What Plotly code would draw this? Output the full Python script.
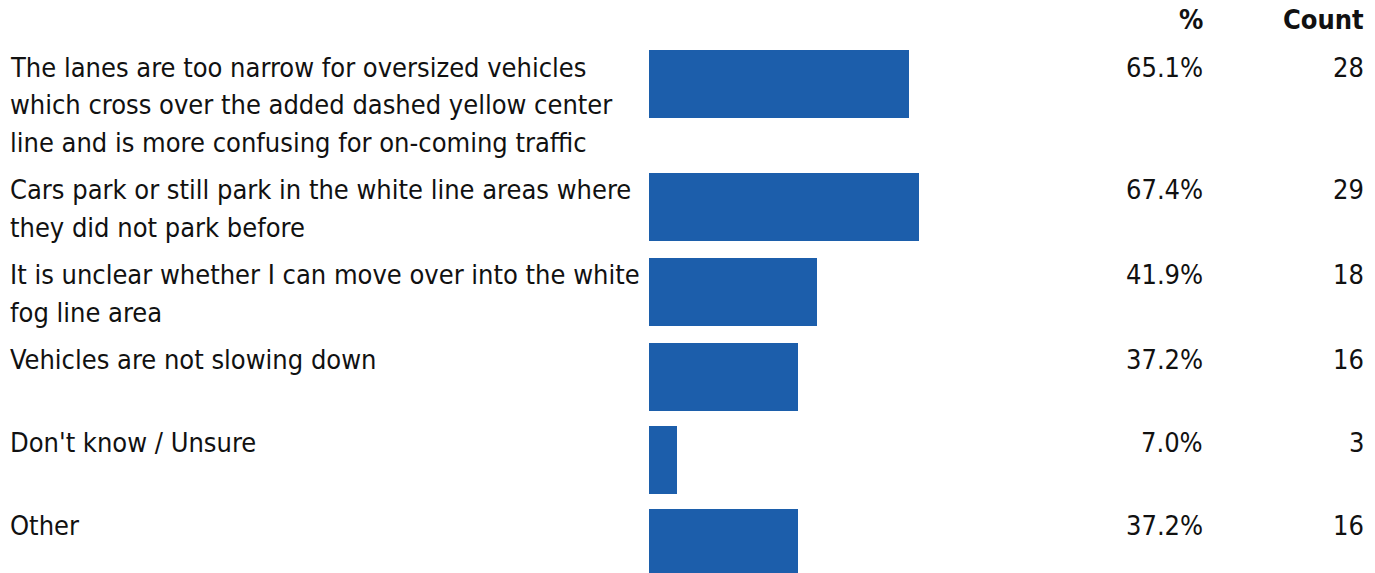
import plotly.graph_objects as go

labels = [
    "The lanes are too narrow for oversized vehicles<br>which cross over the added dashed yellow center<br>line and is more confusing for on-coming traffic",
    "Cars park or still park in the white line areas where<br>they did not park before",
    "It is unclear whether I can move over into the white<br>fog line area",
    "Vehicles are not slowing down",
    "Don't know / Unsure",
    "Other",
]
percents = [65.1, 67.4, 41.9, 37.2, 7.0, 37.2]
counts = [28, 29, 18, 16, 3, 16]
headers = ["%", "Count"]

W, H = 1375, 573
LINE = 37.5      # spacing between wrapped label lines (px)
BAR_H = 68
FONT = "DejaVu Sans Condensed, Liberation Sans Narrow, sans-serif"
TEXT = "#111111"
BAR = "#1c5eab"

# row layout: taller rows for labels wrapping on more lines
tops = []
pos = 50
for lab in labels:
    tops.append(pos)
    n = lab.count("<br>") + 1
    pos += max(n * LINE + 10, 83)
centers = [t + BAR_H / 2 for t in tops]

fig = go.Figure()
fig.add_trace(go.Bar(
    x=percents,
    y=centers,
    orientation="h",
    width=BAR_H,
    marker_color=BAR,
    marker_line_width=0,
    hoverinfo="skip",
))

font = dict(size=27, color=TEXT, family=FONT)
annotations = []
for i, lab in enumerate(labels):
    for j, line in enumerate(lab.split("<br>")):
        annotations.append(dict(
            text=line, xref="paper", x=8 / W, xanchor="left",
            yref="y", y=tops[i] + 17 + j * LINE, yanchor="middle",
            showarrow=False, font=font,
        ))
    annotations.append(dict(
        text=f"{percents[i]:.1f}%", xref="paper", x=1205 / W, xanchor="right",
        yref="y", y=tops[i] + 17, yanchor="middle",
        showarrow=False, font=font,
    ))
    annotations.append(dict(
        text=str(counts[i]), xref="paper", x=1366 / W, xanchor="right",
        yref="y", y=tops[i] + 17, yanchor="middle",
        showarrow=False, font=font,
    ))

for h, xp in zip(headers, [1205, 1366]):
    annotations.append(dict(
        text=f"<b>{h}</b>", xref="paper", x=xp / W, xanchor="right",
        yref="y", y=19, yanchor="middle",
        showarrow=False, font=font,
    ))

fig.update_layout(
    width=W,
    height=H,
    margin=dict(l=0, r=0, t=0, b=0),
    paper_bgcolor="white",
    plot_bgcolor="white",
    showlegend=False,
    bargap=0,
    xaxis=dict(domain=[649 / W, 1049 / W], range=[0, 100], visible=False, fixedrange=True),
    yaxis=dict(domain=[0, 1], range=[H, 0], visible=False, fixedrange=True),
    annotations=annotations,
)

fig.write_html(
    "out.html",
    config={"displayModeBar": False},
    post_script="document.body.style.margin='0';",
)
